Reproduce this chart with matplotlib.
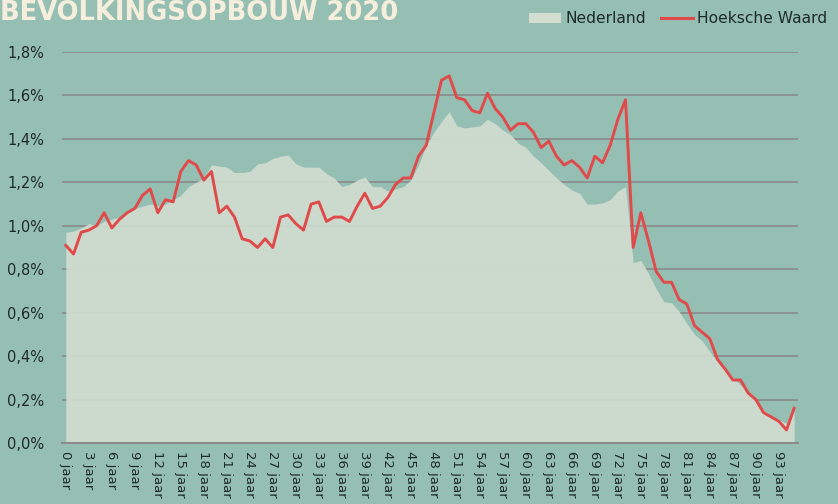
import numpy as np
import matplotlib
matplotlib.use('Agg')
import matplotlib.pyplot as plt
from matplotlib.ticker import FuncFormatter, MultipleLocator
from matplotlib.patches import Patch
from matplotlib.lines import Line2D

# Leeftijden 0..95 jaar
ages = list(range(96))

# Aandeel per leeftijd (%), Nederland
nederland = [0.97, 0.975, 0.99, 1.01, 1.00, 1.02, 1.03, 1.04, 1.06, 1.08,
             1.09, 1.10, 1.09, 1.10, 1.12, 1.14, 1.18, 1.20, 1.22, 1.28,
             1.275, 1.27, 1.245, 1.245, 1.25, 1.285, 1.29, 1.31, 1.32, 1.325,
             1.285, 1.27, 1.27, 1.27, 1.24, 1.22, 1.18, 1.19, 1.21, 1.225,
             1.18, 1.18, 1.16, 1.17, 1.18, 1.21, 1.28, 1.37, 1.43, 1.48,
             1.525, 1.46, 1.45, 1.455, 1.46, 1.49, 1.47, 1.44, 1.42, 1.38,
             1.36, 1.32, 1.29, 1.255, 1.22, 1.19, 1.165, 1.15, 1.10, 1.10,
             1.105, 1.12, 1.16, 1.18, 0.83, 0.84, 0.78, 0.71, 0.65, 0.645,
             0.605, 0.55, 0.50, 0.47, 0.42, 0.375, 0.335, 0.30, 0.267, 0.23,
             0.19, 0.152, 0.124, 0.106, 0.09, 0.15]

# Aandeel per leeftijd (%), Hoeksche Waard
hoeksche_waard = [0.91, 0.87, 0.97, 0.98, 1.00, 1.06, 0.99, 1.03, 1.06, 1.08,
                  1.14, 1.17, 1.06, 1.12, 1.11, 1.25, 1.30, 1.28, 1.21, 1.25,
                  1.06, 1.09, 1.04, 0.94, 0.93, 0.90, 0.94, 0.90, 1.04, 1.05,
                  1.01, 0.98, 1.10, 1.11, 1.02, 1.04, 1.04, 1.02, 1.09, 1.15,
                  1.08, 1.09, 1.13, 1.19, 1.22, 1.22, 1.32, 1.37, 1.52, 1.67,
                  1.69, 1.59, 1.58, 1.53, 1.52, 1.61, 1.54, 1.50, 1.44, 1.47,
                  1.47, 1.43, 1.36, 1.39, 1.32, 1.28, 1.30, 1.27, 1.22, 1.32,
                  1.29, 1.37, 1.49, 1.58, 0.90, 1.06, 0.93, 0.79, 0.74, 0.74,
                  0.66, 0.64, 0.54, 0.51, 0.48, 0.385, 0.34, 0.29, 0.29, 0.23,
                  0.20, 0.14, 0.12, 0.10, 0.06, 0.16]

tick_ages = list(range(0, 94, 3))
tick_labels = [f"{a} jaar" for a in tick_ages]

bg = '#96bfb3'
area_col = '#d3ded1'
red = '#e04a4a'
text_col = '#1e2a2a'

fig = plt.figure(figsize=(8.38, 5.04), dpi=100, facecolor=bg)
ax = fig.add_axes([62 / 838, 1 - 443 / 504, 736 / 838, 391 / 504])
ax.set_facecolor(bg)

ax.fill_between(ages, nederland, 0, color=area_col, alpha=0.9, lw=0, zorder=2)
ax.plot(ages, hoeksche_waard, color=red, lw=2.1, zorder=3)

ax.set_xlim(-0.5, 95.5)
ax.set_ylim(0, 1.8)
ax.yaxis.set_major_locator(MultipleLocator(0.2))
ax.yaxis.set_major_formatter(FuncFormatter(lambda v, p: f"{v:.1f}%".replace('.', ',')))
ax.grid(axis='y', color='#8a8585', lw=1.1, zorder=1)
ax.set_axisbelow(True)

ax.set_xticks(tick_ages)
ax.set_xticklabels(tick_labels, rotation=-90, fontsize=9.5, color=text_col)
ax.tick_params(axis='x', length=0, pad=6)
ax.tick_params(axis='y', length=0, pad=13, labelsize=10.5, labelcolor=text_col)

for s in ['top', 'right', 'left']:
    ax.spines[s].set_visible(False)
ax.spines['bottom'].set_color('#8a8a8a')
ax.spines['bottom'].set_linewidth(1.4)
ax.spines['bottom'].set_zorder(4)

fig.text(0.0, 1.0, 'BEVOLKINGSOPBOUW 2020', fontsize=18.5, fontweight='bold',
         color='#f5eedc', ha='left', va='top', fontfamily='DejaVu Sans')

handles = [Patch(facecolor=area_col, edgecolor='none', label='Nederland'),
           Line2D([0], [0], color=red, lw=2.2, label='Hoeksche Waard')]
fig.legend(handles=handles, loc='upper right', bbox_to_anchor=(1.004, 1.005), ncol=2,
           frameon=False, fontsize=11.2, labelcolor=text_col, handlelength=2.0,
           handletextpad=0.3, columnspacing=1.0)

fig.savefig('out.png', dpi=100, facecolor=bg)
